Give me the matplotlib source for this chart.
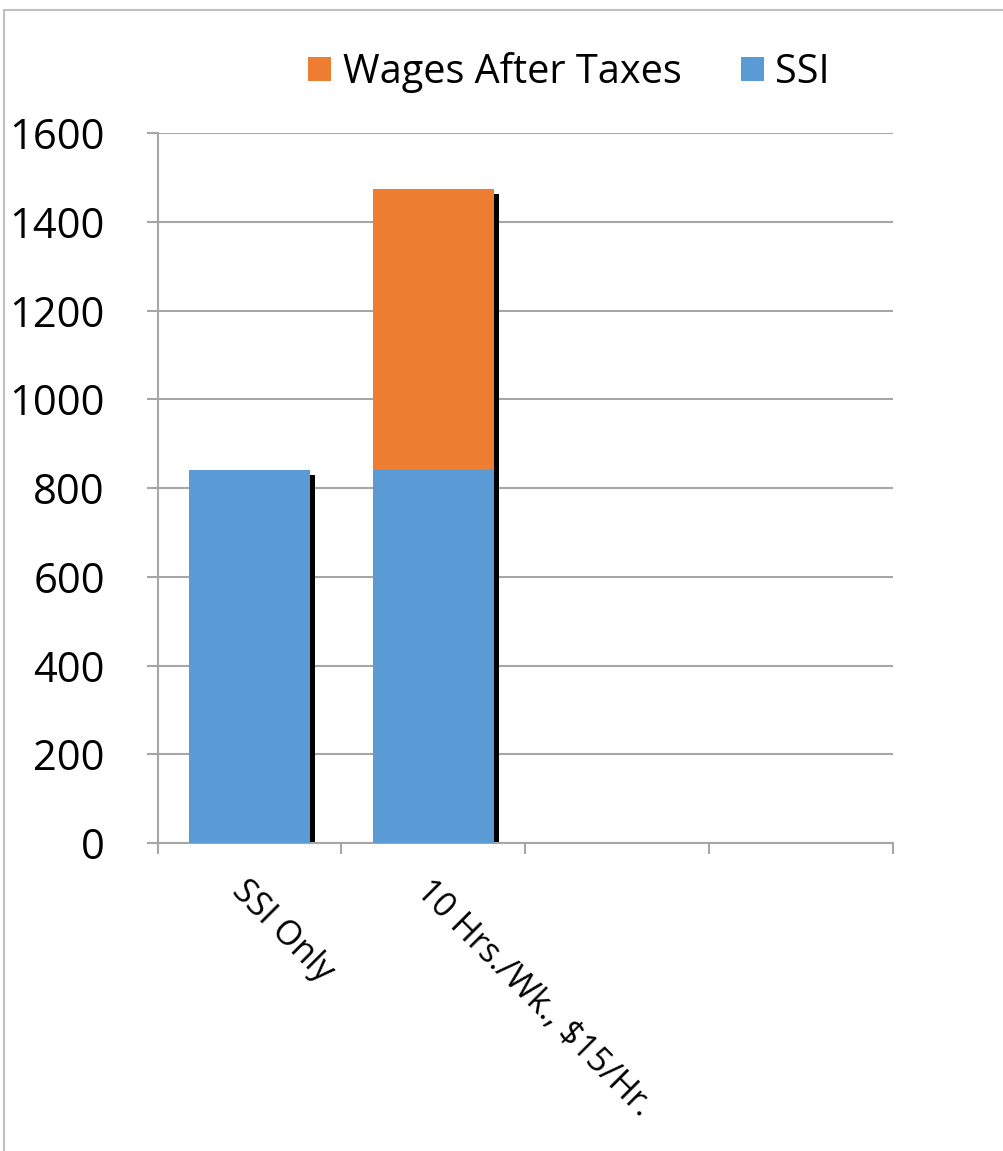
import matplotlib

matplotlib.use("Agg")

import matplotlib.pyplot as plt
import matplotlib.transforms as mtransforms
from matplotlib.patches import Rectangle

plt.rcParams["font.family"] = ["Open Sans", "DejaVu Sans"]

# data
categories = ["SSI Only", "10 Hrs./Wk., $15/Hr.", "", ""]
ssi = [841, 841, 0, 0]
wages_after_taxes = [0, 633, 0, 0]
y_ticks = [0, 200, 400, 600, 800, 1000, 1200, 1400, 1600]

BLUE = "#5B9BD5"
ORANGE = "#ED7D31"
GRID = "#A6A6A6"

fig = plt.figure(figsize=(10.04, 11.51), dpi=100)
ax = fig.add_axes([0.157, 0.2676, 0.732, 0.6168])

# outer chart frame (only left and top edges fall inside the image)
fig.patches.append(Rectangle((0.004, -0.2), 1.2, 1.191, transform=fig.transFigure,
                             fill=False, edgecolor="#BFBFBF", linewidth=1.5))

x = list(range(len(categories)))
totals = [s + w for s, w in zip(ssi, wages_after_taxes)]
width = 0.66

# drop shadow behind each stack
shadow = ax.transData + mtransforms.ScaledTranslation(5 / 100, -5 / 100, fig.dpi_scale_trans)
ax.bar(x, totals, width=width, color="black", transform=shadow, zorder=2)

ax.bar(x, ssi, width=width, color=BLUE, label="SSI", zorder=3)
ax.bar(x, wages_after_taxes, width=width, bottom=ssi, color=ORANGE,
       label="Wages After Taxes", zorder=3)

ax.set_xlim(-0.5, len(categories) - 0.5)
ax.set_ylim(0, 1600)
ax.set_yticks(y_ticks)
ax.set_yticklabels([str(v) for v in y_ticks], fontsize=30)
ax.yaxis.grid(True, color=GRID, linewidth=1.5)
ax.set_axisbelow(True)

ax.set_xticks([i - 0.5 for i in range(len(categories) + 1)])
ax.set_xticklabels([])
ax.set_xticks(x, minor=True)
ax.set_xticklabels(categories, minor=True, rotation=-45, ha="left", va="top",
                   rotation_mode="anchor", fontsize=24.5)
ax.tick_params(axis="x", which="minor", length=0, pad=22)
ax.tick_params(axis="x", which="major", length=8, color=GRID, width=1.5)
ax.tick_params(axis="y", length=8, color=GRID, width=1.5, pad=30)

for side in ("top", "right"):
    ax.spines[side].set_visible(False)
for side in ("left", "bottom"):
    ax.spines[side].set_color(GRID)
    ax.spines[side].set_linewidth(1.5)

handles, labels = ax.get_legend_handles_labels()
fig.legend(handles[::-1], labels[::-1], loc="center", bbox_to_anchor=(0.567, 0.937),
           ncol=2, frameon=False, fontsize=28.5, handlelength=0.57, handleheight=0.57,
           handletextpad=0.3, columnspacing=1.5)

fig.savefig("out.png", dpi=100)
